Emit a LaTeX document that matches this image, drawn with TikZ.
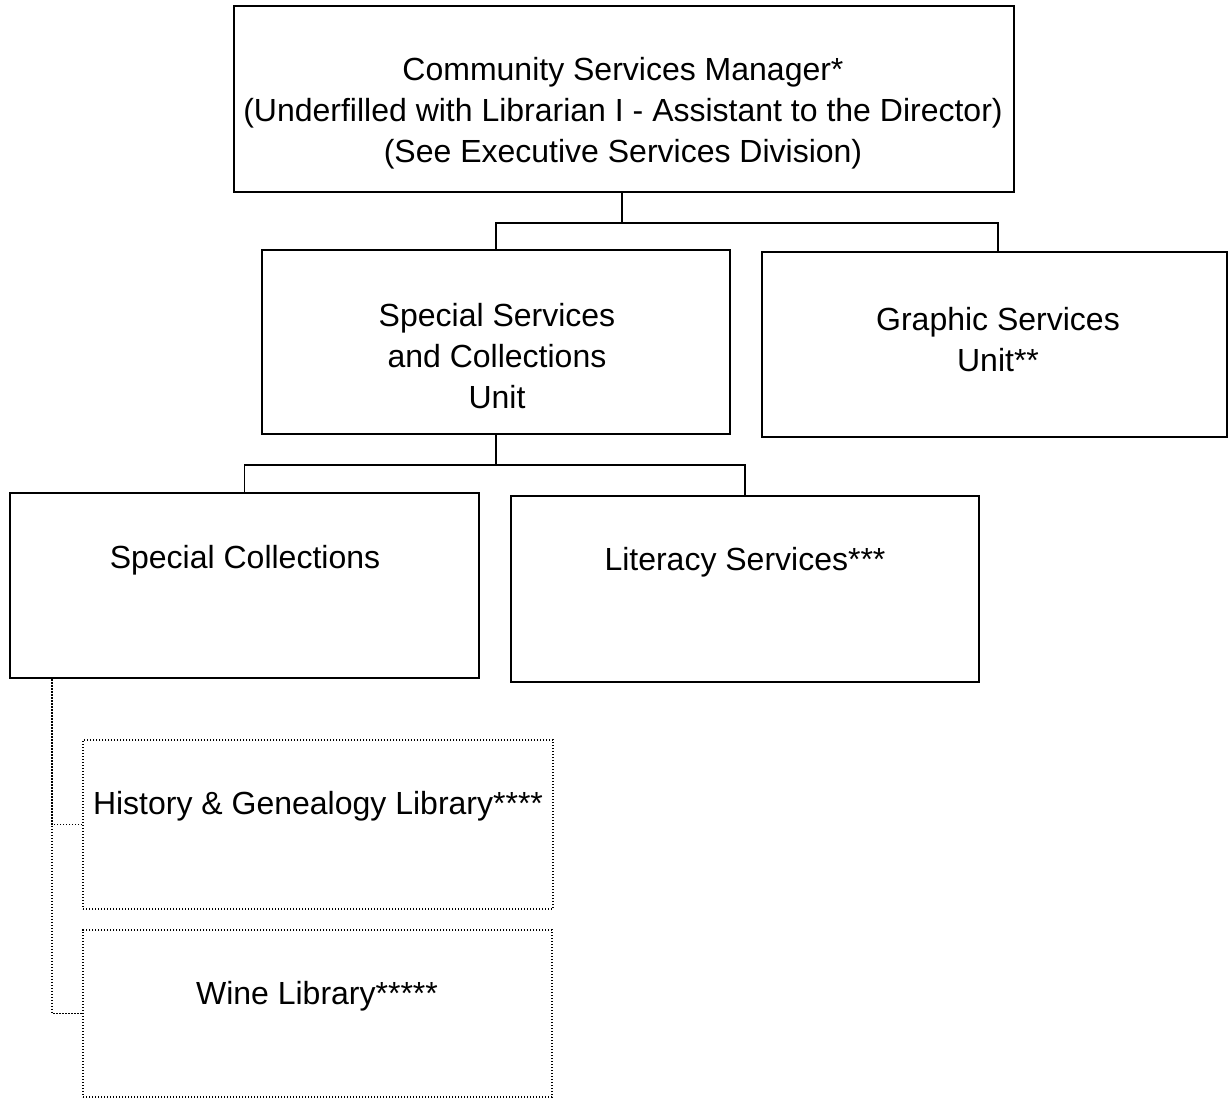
\documentclass[tikz,border=0pt]{standalone}
\usepackage{fontspec}
\setmainfont{Liberation Sans}
\usetikzlibrary{calc}
\tikzset{
  box/.style={draw=black, line width=1.8pt, inner sep=0pt, anchor=center},
  dbox/.style={draw=black, line width=1.6pt, dash pattern=on 1.4pt off 1.6pt, inner sep=0pt, anchor=center},
  link/.style={draw=black, line width=1.8pt},
  dlink/.style={draw=black, line width=1.6pt, dash pattern=on 1.4pt off 1.6pt},
  txt/.style={align=center, inner sep=0pt, font=\fontsize{32}{41}\selectfont},
}
\begin{document}
\begin{tikzpicture}[x=1pt, y=-1pt]
\useasboundingbox (0,0) rectangle (1229,1099);

% boxes
\node[box, minimum width=780pt, minimum height=186pt] (mgr) at (624,99) {};
\node[box, minimum width=468pt, minimum height=184pt] (ssc) at (496,342) {};
\node[box, minimum width=465pt, minimum height=185pt] (gfx) at (994.5,344.5) {};
\node[box, minimum width=469pt, minimum height=185pt] (sc) at (244.5,585.5) {};
\node[box, minimum width=468pt, minimum height=186pt] (lit) at (745,589) {};
\node[dbox, minimum width=470pt, minimum height=169pt] (hist) at (318,824.5) {};
\node[dbox, minimum width=469pt, minimum height=167pt] (wine) at (317.5,1013.5) {};

% labels
\node[txt] (mgrt) at (623,113) {Community Services Manager*\\(Underfilled with Librarian I - Assistant to the Director)\\(See Executive Services Division)};
\node[txt] (ssct) at (497,356) {Special Services\\and Collections\\Unit};
\node[txt] (gfxt) at (998,340) {Graphic Services\\Unit**};
\node[txt] (sct) at (245,560) {Special Collections};
\node[txt] (litt) at (745,562) {Literacy Services***};
\node[txt] (histt) at (318,806) {History \& Genealogy Library****};
\node[txt] (winet) at (317,996) {Wine Library*****};

% solid connectors
\coordinate (j1) at ($(mgr.south)+(-2,30)$);
\coordinate (g1) at ($(gfx.north)+(3.5,0)$);
\draw[link] (mgr.south -| j1) -- (j1);
\draw[link] (ssc.north) |- (j1) -| (g1);
\coordinate (j2) at ($(ssc.south)+(0,30)$);
\draw[link] (ssc.south) -- (j2);
\draw[link] (sc.north) |- (j2) -| (lit.north);

% dotted connectors
\coordinate (trunk) at ($(sc.south west)+(43,0)$);
\draw[dlink] (trunk) |- (wine.west);
\draw[dlink] (hist.west) -| (trunk);
\end{tikzpicture}
\end{document}
